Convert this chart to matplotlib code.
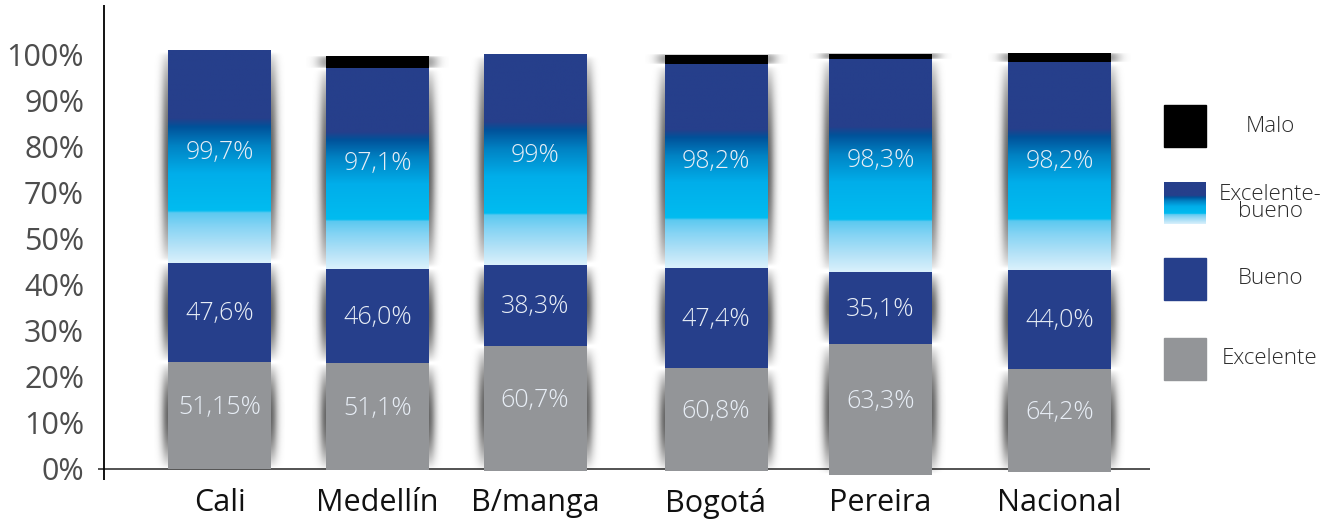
import numpy as np
import matplotlib
matplotlib.use("Agg")
import matplotlib.pyplot as plt
from matplotlib.colors import LinearSegmentedColormap
from matplotlib.patches import Rectangle

# ---- data (heights in axis units; the "100%" tick sits at 90) ----
cities = ["Cali", "Medellín", "B/manga", "Bogotá", "Pereira", "Nacional"]
base = [0.0, -0.2, -0.4, -0.4, -1.3, -0.6]
excelente = [23.2, 23.2, 27.1, 22.3, 28.4, 22.3]
bueno = [21.5, 20.4, 17.5, 21.7, 15.6, 21.5]
exc_bueno = [46.0, 43.6, 45.6, 44.2, 46.2, 45.1]
malo = [0.0, 2.6, 0.0, 2.0, 1.1, 1.9]

lab_excelente = ["51,15%", "51,1%", "60,7%", "60,8%", "63,3%", "64,2%"]
lab_bueno = ["47,6%", "46,0%", "38,3%", "47,4%", "35,1%", "44,0%"]
lab_exc_bueno = ["99,7%", "97,1%", "99%", "98,2%", "98,3%", "98,2%"]

ytick_labels = ["0%", "10%", "20%", "30%", "40%", "50%", "70%", "80%", "90%", "100%"]
legend_labels = ["Malo", "Excelente-\nbueno", "Bueno", "Excelente"]

# ---- layout ----
W, H = 1336, 521
xpos = [219.5, 377.5, 535, 716, 880.5, 1059.5]   # bar centres (px)
bw = 103
c_grey, c_blue, c_black = "#939598", "#263F8B", "#000000"
grad = LinearSegmentedColormap.from_list("eb", [
    (0.00, "#DAF1FC"), (0.08, "#B4E2F7"), (0.17, "#86D4F4"), (0.235, "#5CC9F0"),
    (0.245, "#00BCF0"), (0.42, "#00AEEA"), (0.55, "#0083C4"), (0.64, "#00529A"),
    (0.68, "#263F8B"), (1.00, "#263F8B")])
thin = dict(family=["Open Sans"], fontweight="light")

fig = plt.figure(figsize=(W / 100, H / 100), dpi=100)
ax = fig.add_axes([98 / W, (H - 480) / H, (1150 - 98) / W, 475 / H])
px = 415 / 90.0  # px per unit
ylo, yhi = -(480 - 469) / px, 90 + (54 - 5) / px


def shadow(xc, w, y0, y1, spread=14, alpha=0.6, shape=0.8, color=(0, 0, 0)):
    nx, ny = 160, 60
    xs = np.linspace(xc - w / 2 - spread, xc + w / 2 + spread, nx)
    t = np.linspace(0, 1, ny)
    dx = np.clip(np.abs(xs - xc) - w / 2, 0, None)
    fx = np.exp(-(dx / (spread * 0.5)) ** 2)
    fy = np.sin(np.pi * t) ** shape
    img = np.zeros((ny, nx, 4))
    img[..., :3] = color
    img[..., 3] = alpha * np.outer(fy, fx)
    ax.imshow(img, extent=(xs[0], xs[-1], y0, y1), origin="lower",
              aspect="auto", interpolation="bilinear", zorder=1.5)


ax.axhline(0, color="#444444", lw=1.3, zorder=0.5)
ax.axvline(104, color="#000000", lw=1.3, zorder=0.5)

gcol = np.linspace(0, 1, 256)[:, None]
for i, xc in enumerate(xpos):
    x0 = xc - bw / 2
    b0 = base[i]
    b1 = b0 + excelente[i]
    b2 = b1 + bueno[i]
    b3 = b2 + exc_bueno[i]
    b4 = b3 + malo[i]
    # soft side shadows
    shadow(xc, bw, b0, b1)
    shadow(xc, bw, b1, b2)
    shadow(xc, bw, b2, b3, shape=0.6)
    ax.bar(xc, excelente[i], bw, bottom=b0, color=c_grey, zorder=2)
    ax.bar(xc, bueno[i], bw, bottom=b1, color=c_blue, zorder=2)
    ax.imshow(gcol, extent=(x0, x0 + bw, b2, b3), origin="lower", cmap=grad,
              aspect="auto", interpolation="bilinear", zorder=2)
    if malo[i] > 0:
        shadow(xc, bw, b3, b4, spread=20, alpha=0.5, shape=0.3, color=(0.3, 0.3, 0.3))
        ax.bar(xc, malo[i], bw, bottom=b3, color=c_black, zorder=2)
    tk = dict(ha="center", va="center", color="#E8EEF6", fontsize=18, zorder=3, **thin)
    ax.text(xc, (b0 + b1) / 2 + 1.7, lab_excelente[i], **tk)
    ax.text(xc, (b1 + b2) / 2 - 0.3, lab_bueno[i], **tk)
    ax.text(xc, (b2 + b3) / 2 + 1.0, lab_exc_bueno[i], **tk)

ax.set_xlim(98, 1150)
ax.set_ylim(ylo, yhi)
ax.set_yticks(np.arange(0, 100, 10))
ax.set_yticklabels(ytick_labels, family="Open Sans", fontsize=22, color="#4D4D4D")
ax.set_xticks(xpos)
ax.set_xticklabels(cities, family="Open Sans", fontsize=22, color="#111111")
ax.tick_params(axis="y", length=0, pad=10)
ax.tick_params(axis="x", length=0, pad=6)
for s in ax.spines.values():
    s.set_visible(False)

# ---- legend (drawn in figure pixels) ----
ov = fig.add_axes([0, 0, 1, 1])
ov.patch.set_alpha(0)
sw_x, sw = 1164, 42
sw_y = [105, 182, 258, 338]
ov.add_patch(Rectangle((sw_x, sw_y[0]), sw, sw, color=c_black))
ov.imshow(gcol, extent=(sw_x, sw_x + sw, sw_y[1] + sw, sw_y[1]), origin="lower",
          cmap=grad, aspect="auto", interpolation="bilinear")
ov.add_patch(Rectangle((sw_x, sw_y[2]), sw, sw, color=c_blue))
ov.add_patch(Rectangle((sw_x, sw_y[3]), sw, sw, color=c_grey))
for y, lab in zip(sw_y, legend_labels):
    ov.text(1270, y + sw / 2, lab, ha="center", va="center", fontsize=16,
            linespacing=0.8, color="#2B2B2B", **thin)
ov.set_xlim(0, W)
ov.set_ylim(H, 0)
ov.axis("off")

fig.savefig("out.png", dpi=100)
